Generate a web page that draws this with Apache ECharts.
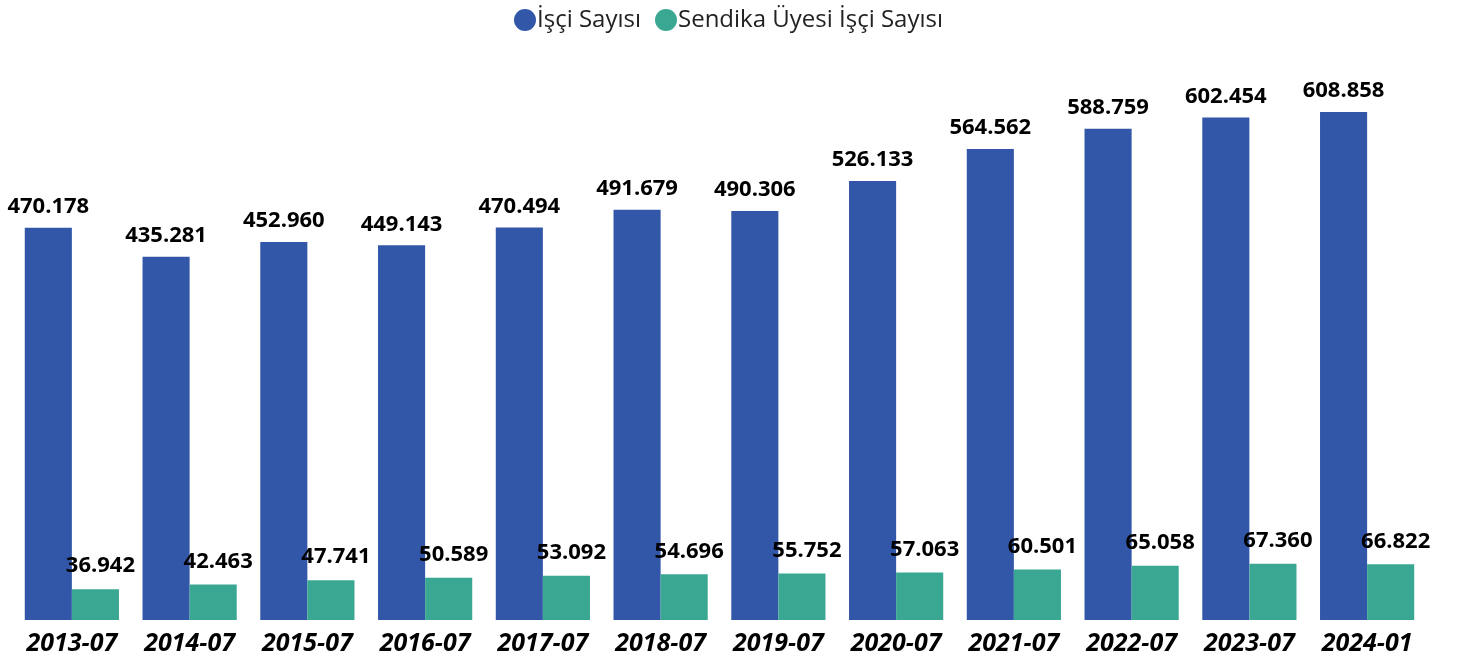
<!DOCTYPE html>
<html>
<head>
<meta charset="utf-8">
<script src="https://cdn.jsdelivr.net/npm/echarts@6/dist/echarts.min.js"></script>
<style>
  html, body { margin: 0; padding: 0; background: #fff; }
  #chart { width: 1457px; height: 660px; }
</style>
</head>
<body>
<div id="chart"></div>
<script>
const categories = ['2013-07', '2014-07', '2015-07', '2016-07', '2017-07', '2018-07',
  '2019-07', '2020-07', '2021-07', '2022-07', '2023-07', '2024-01'];
const isciSayisi = [470178, 435281, 452960, 449143, 470494, 491679,
  490306, 526133, 564562, 588759, 602454, 608858];
const sendikaUyesi = [36942, 42463, 47741, 50589, 53092, 54696,
  55752, 57063, 60501, 65058, 67360, 66822];

const fmt = v => String(v).replace(/\B(?=(\d{3})+(?!\d))/g, '.');

const chart = echarts.init(document.getElementById('chart'));

const labelStyle = {
  show: true,
  position: 'top',
  distance: 10,
  color: '#000',
  fontSize: 22,
  fontWeight: 'bold',
  fontFamily: 'Open Sans',
  formatter: p => fmt(p.value)
};

chart.setOption({
  animation: false,
  legend: {
    top: 3,
    left: 'center',
    icon: 'circle',
    itemWidth: 22,
    itemHeight: 22,
    itemGap: 14,
    textStyle: { fontSize: 24, color: '#222', fontFamily: 'Open Sans', padding: [0, 0, 0, -4] },
    data: ['İşçi Sayısı', 'Sendika Üyesi İşçi Sayısı']
  },
  grid: { left: 13, right: 31, top: 36, bottom: 40 },
  xAxis: {
    type: 'category',
    data: categories,
    axisLine: { show: false },
    axisTick: { show: false },
    axisLabel: {
      interval: 0,
      margin: 11,
      color: '#000',
      fontSize: 25,
      fontWeight: 'bold',
      fontStyle: 'italic',
      fontFamily: 'Open Sans'
    }
  },
  yAxis: {
    type: 'value',
    min: 0,
    max: 700000,
    show: false,
    splitLine: { show: false }
  },
  series: [
    {
      name: 'İşçi Sayısı',
      type: 'bar',
      data: isciSayisi,
      barGap: '0%',
      barCategoryGap: '20%',
      itemStyle: { color: '#3357A8' },
      label: labelStyle
    },
    {
      name: 'Sendika Üyesi İşçi Sayısı',
      type: 'bar',
      data: sendikaUyesi,
      itemStyle: { color: '#3AA793' },
      label: Object.assign({}, labelStyle, { distance: 12, offset: [5, 0] })
    }
  ]
});
</script>
</body>
</html>
